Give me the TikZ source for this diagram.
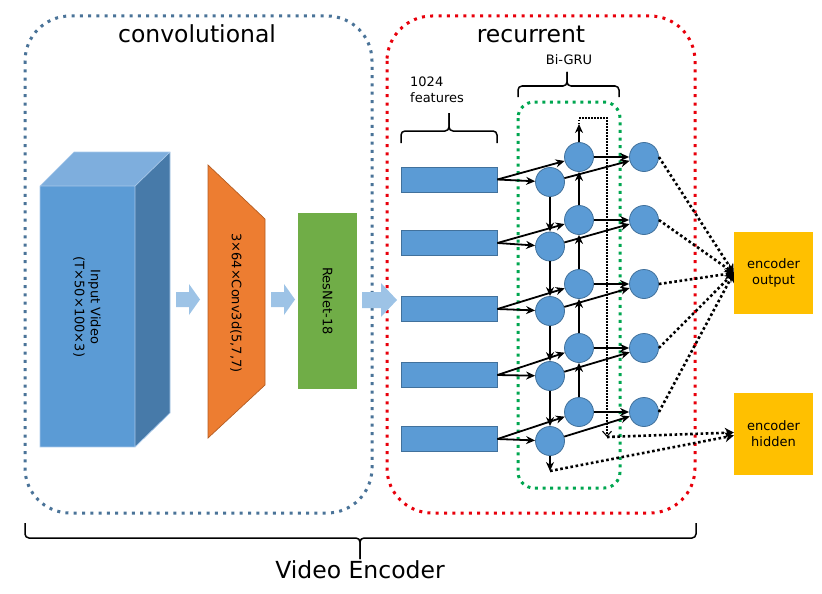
\documentclass[tikz,border=0pt]{standalone}
\usepackage{fontspec}
\setmainfont{DejaVu Sans}
\usetikzlibrary{arrows.meta,calc}
\definecolor{boxblue}{HTML}{4A7398}
\definecolor{boxred}{HTML}{E8000B}
\definecolor{boxgreen}{HTML}{00A650}
\definecolor{cellblue}{HTML}{5B9BD5}
\definecolor{celledge}{HTML}{41719C}
\definecolor{cubetop}{HTML}{7EAEDD}
\definecolor{cubeside}{HTML}{477AA9}
\definecolor{cubeedge}{HTML}{A8C8EA}
\definecolor{convorange}{HTML}{ED7D31}
\definecolor{convedge}{HTML}{B45C22}
\definecolor{resgreen}{HTML}{70AD47}
\definecolor{encgold}{HTML}{FFC000}
\definecolor{flowblue}{HTML}{9DC3E6}
\begin{document}
\begin{tikzpicture}[x=1pt,y=-1pt,
  groupbox/.style={line width=3pt,dash pattern=on 3pt off 5.3pt,rounded corners=45},
  title/.style={font=\fontsize{23.5}{28}\selectfont,anchor=base,inner sep=0},
  small/.style={font=\fontsize{13}{16}\selectfont},
  cell/.style={circle,minimum size=29pt,inner sep=0,fill=cellblue,draw=celledge,line width=0.8pt},
  feat/.style={rectangle,minimum width=96pt,minimum height=25pt,inner sep=0,fill=cellblue,draw=celledge,line width=0.8pt},
  arr/.style={line width=1.8pt,-{Stealth[length=9pt,width=8pt]}},
  dotarr/.style={line width=2.6pt,dash pattern=on 2.6pt off 2.6pt,-{Stealth[length=9pt,width=10pt]}},
  thindot/.style={line width=1.1pt,dash pattern=on 1.5pt off 1.5pt},
  encbox/.style={rectangle,fill=encgold,minimum width=79pt,minimum height=82pt,inner sep=0,align=center,small},
  bracepath/.style={line width=1.5pt,rounded corners=4pt},
  flow/.style={fill=flowblue}
]
\useasboundingbox (0,0) rectangle (822,594);

% group boxes
\draw[groupbox,boxblue] (25,16) rectangle (372,513);
\draw[groupbox,boxred] (387,16) rectangle (695,513);
\draw[groupbox,boxgreen,rounded corners=16,dash pattern=on 3pt off 4.6pt] (518,102) rectangle (620,488);

\node[title] (tconv) at (197,43) {convolutional};
\node[title] (trec) at (531,43) {recurrent};
\node[title] (tve) at (360,578) {Video Encoder};

% bottom brace
\draw[bracepath] (25,523) -- (25,538) -- (360,538) -- (360,559);
\draw[bracepath] (696,523) -- (696,538) -- (360,538) -- (360,559);

% input video cuboid
\fill[cubetop] (40,186) -- (74,152) -- (170,152) -- (135,186) -- cycle;
\fill[cubeside] (135,186) -- (170,152) -- (170,413) -- (135,447) -- cycle;
\fill[cellblue] (40,186) rectangle (135,447);
\draw[cubeedge,line width=0.7pt] (40,447) -- (40,186) -- (74,152) -- (170,152) -- (170,413) -- (135,447) -- cycle (40,186) -- (135,186) -- (135,447) (135,186) -- (170,152);
\node[small,rotate=-90,align=center] (vid) at (87,307) {Input Video\\(T×50×100×3)};

% conv3d trapezoid
\draw[fill=convorange,draw=convedge,line width=0.7pt] (208,165) -- (265,219) -- (265,385) -- (208,438) -- cycle;
\node[small,rotate=-90] (conv) at (236,303) {3×64×Conv3d(5,7,7)};

% resnet
\node[rectangle,fill=resgreen,minimum width=59pt,minimum height=176pt,inner sep=0] (res) at (327.5,301) {};
\node[small,rotate=-90] (restext) at (327.5,301) {ResNet-18};

% flow arrows
\fill[flow] (176,292) -- (189,292) -- (189,284) -- (200,299.5) -- (189,315) -- (189,307) -- (176,307) -- cycle;
\fill[flow] (271,292) -- (284,292) -- (284,284) -- (295,299.5) -- (284,315) -- (284,307) -- (271,307) -- cycle;
\fill[flow] (362,292) -- (381,292) -- (381,283) -- (397,300) -- (381,317) -- (381,308) -- (362,308) -- cycle;

% features
\node[small,align=left,anchor=north west,inner sep=0] (ftext) at (410,77) {1024\\features};
\draw[bracepath] (401,143) -- (401,131) -- (449,131) -- (449,113);
\draw[bracepath] (497,143) -- (497,131) -- (449,131) -- (449,113);

\node[small,anchor=base,inner sep=0] (bigru) at (569,65) {Bi-GRU};
\draw[bracepath] (518,97) -- (518,86) -- (567,86) -- (567,72);
\draw[bracepath] (619,97) -- (619,86) -- (567,86) -- (567,72);

\foreach \i/\ry/\ay/\by in {1/179.5/182/157,2/243/246.5/220,3/309/311/284,4/375/376/348,5/439/441/412}{
  \node[feat] (r\i) at (449,\ry) {};
  \node[cell] (a\i) at (550,\ay) {};
  \node[cell] (b\i) at (579,\by) {};
  \node[cell] (c\i) at (644,\by) {};
}

% connections
\foreach \i in {1,...,5}{
  \draw[arr] (r\i.east) -- (a\i);
  \draw[arr] (r\i.east) -- (b\i);
  \draw[arr] (b\i) -- (c\i);
  \draw[arr] (a\i) -- (c\i);
}
\foreach \i/\j in {1/2,2/3,3/4,4/5}{
  \draw[arr] (a\i) -- (a\j);
  \draw[arr] (b\j) -- (b\i);
}
\coordinate (btop) at (579,124);
\coordinate (abot) at (550,471);
\coordinate (dl) at (579,118);
\coordinate (dr) at (607,118);
\coordinate (dend) at (607,437);
\draw[arr] (b1) -- (btop);
\draw[arr] (a5) -- (abot);
\draw[thindot,-{Straight Barb[length=5pt,width=9pt]}] (btop) -- (dl) -- (dr) -- (dend);

% outputs
\node[encbox] (out) at (773.5,273) {encoder\\output};
\node[encbox] (hid) at (773.5,434) {encoder\\hidden};
\foreach \i in {1,...,5}{
  \draw[dotarr] (c\i.east) -- (out.west);
}
\draw[dotarr] (dend) -- ($(hid.west)+(0,-1.5)$);
\draw[dotarr] (abot) -- ($(hid.west)+(0,1.5)$);
\end{tikzpicture}
\end{document}
